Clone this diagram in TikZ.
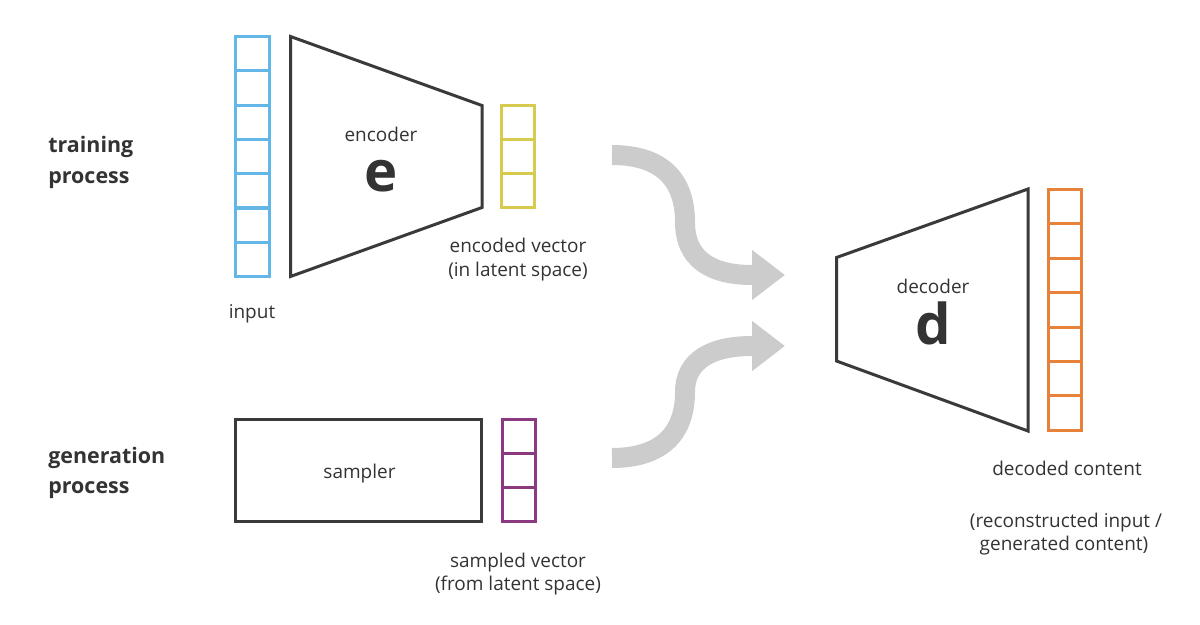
\documentclass[tikz,border=0pt]{standalone}
\usepackage{fontspec}
\setmainfont{Open Sans}
\usetikzlibrary{arrows.meta}
\definecolor{inblue}{HTML}{62B7E6}
\definecolor{encyel}{HTML}{D6CB4E}
\definecolor{smppur}{HTML}{8B3A82}
\definecolor{decora}{HTML}{E8823A}
\definecolor{darkln}{HTML}{3A3A3A}
\definecolor{txtc}{HTML}{333333}
\definecolor{flowg}{HTML}{CCCCCC}
\begin{document}
\begin{tikzpicture}[x=0.02cm,y=-0.02cm,
  cell/.style={draw, line width=0.06cm, minimum width=0.66cm, inner sep=0pt, fill=white},
  shapeln/.style={draw=darkln, line width=0.06cm, line join=miter},
  lbl/.style={anchor=base, inner sep=0pt, text=txtc, font=\fontsize{10.8}{13}\selectfont},
  side/.style={anchor=base west, inner sep=0pt, text=txtc, font=\fontsize{12.2}{15}\selectfont\bfseries},
  big/.style={anchor=base, inner sep=0pt, text=txtc, font=\fontsize{32}{36}\selectfont\bfseries},
  flow/.style={draw=flowg, line width=0.4cm, -{Triangle[width=0.96cm,length=0.66cm]}}]
\useasboundingbox (0,0) rectangle (1200,625);

% input vector
\foreach \i in {0,...,6}
  \node[cell, draw=inblue, minimum width=0.68cm, minimum height=0.686cm] (in\i) at (252.5,{36.5+34.3*\i+17.15}) {};
% encoder
\draw[shapeln] (290.5,36.5) coordinate (e1) -- (482,105.5) coordinate (e2) -- (482,207.5) coordinate (e3) -- (290.5,276.5) coordinate (e4) -- cycle;
\node[lbl] (enclbl) at (381,141) {encoder};
\node[big] (enc) at (381,191) {e};
% encoded vector
\foreach \i in {0,...,2}
  \node[cell, draw=encyel, minimum height=0.68cm] (ev\i) at (518,{105.5+34*\i+17}) {};
\node[lbl] (evl1) at (518,252) {encoded vector};
\node[lbl] (evl2) at (518,276) {(in latent space)};
\node[lbl] (inl) at (252,318) {input};

% sampler
\node[shapeln, minimum width=4.92cm, minimum height=2.04cm, inner sep=0pt] (smp) at (358.5,470.5) {};
\node[lbl] (smpl) at (359.5,478) {sampler};
\foreach \i in {0,...,2}
  \node[cell, draw=smppur, minimum height=0.68cm] (sv\i) at (518.5,{419.5+34*\i+17}) {};
\node[lbl] (svl1) at (518,567) {sampled vector};
\node[lbl] (svl2) at (518,590) {(from latent space)};

% side labels
\node[side] (tr1) at (48,153) {training};
\node[side] (tr2) at (48,183) {process};
\node[side] (gn1) at (48,463) {generation};
\node[side] (gn2) at (48,493) {process};

% decoder
\draw[shapeln] (836.5,257.5) coordinate (d1) -- (1028,189) coordinate (d2) -- (1028,431) coordinate (d3) -- (836.5,361) coordinate (d4) -- cycle;
\node[lbl] (declbl) at (933,293) {decoder};
\node[big] (dec) at (933,344) {d};
\foreach \i in {0,...,6}
  \node[cell, draw=decora, minimum height=0.688cm] (ov\i) at (1065,{189.5+34.4*\i+17.2}) {};
\node[lbl] (ovl1) at (1067,475) {decoded content};
\node[lbl] (ovl2) at (1066,527) {(reconstructed input /};
\node[lbl] (ovl3) at (1064,550) {generated content)};

% flow arrows
\coordinate (ta) at (612,155);
\coordinate (tb) at (785,275);
\coordinate (ga) at (612,458);
\coordinate (gb) at (785,346);
\draw[flow] (ta) .. controls (662,155) and (685,180) .. (685,222) .. controls (685,260) and (712,275) .. (752,275) -- (tb);
\draw[flow] (ga) .. controls (662,458) and (685,433) .. (685,392) .. controls (685,360) and (712,346) .. (752,346) -- (gb);
\end{tikzpicture}
\end{document}
